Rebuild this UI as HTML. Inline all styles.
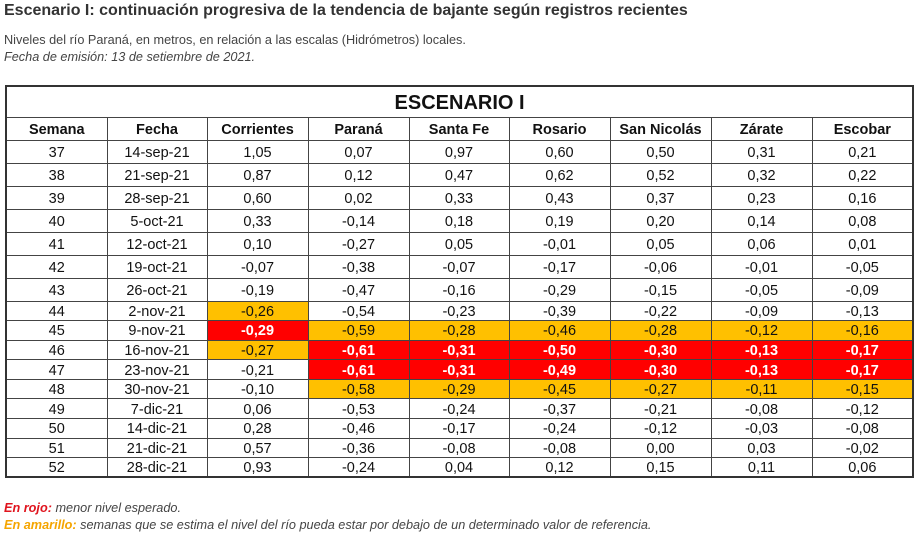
<!DOCTYPE html>
<html><head><meta charset="utf-8"><style>
body{margin:0;width:917px;height:533px;background:#fff;font-family:"Liberation Sans",Arial,sans-serif;color:#222;position:relative;overflow:hidden}
.t{position:absolute;left:4px;top:2px;font-size:16px;font-weight:bold;color:#333}
.s{position:absolute;left:4px;font-size:12.7px;color:#444}
table{position:absolute;left:5px;top:85px;border-collapse:collapse;table-layout:fixed;width:907px;border:2px solid #333}
td{border:1px solid #444;text-align:center;font-size:14.5px;color:#111;padding:2px 0 0 0;line-height:14px;box-sizing:border-box;vertical-align:middle}
tr.a td{height:23px}
tr.b td{height:19.6px}
.h td{font-weight:bold;height:23px}
.ti td{font-size:20px;font-weight:bold;height:31px;border-bottom:1px solid #444}
.o{background:#ffc000}
.r{background:#ff0000;color:#fff;font-weight:bold}
</style></head><body>
<div class="t">Escenario I: continuación progresiva de la tendencia de bajante según registros recientes</div>
<div class="s" style="top:33px">Niveles del río Paraná, en metros, en relación a las escalas (Hidrómetros) locales.</div>
<div class="s" style="top:50px;font-style:italic">Fecha de emisión: 13 de setiembre de 2021.</div>
<table>
<colgroup><col style="width:101px"><col style="width:100px"><col style="width:101px"><col style="width:101px"><col style="width:100px"><col style="width:101px"><col style="width:101px"><col style="width:101px"><col style="width:101px"></colgroup>
<tr class="ti"><td colspan="9">ESCENARIO I</td></tr>
<tr class="h"><td>Semana</td><td>Fecha</td><td>Corrientes</td><td>Paraná</td><td>Santa Fe</td><td>Rosario</td><td>San Nicolás</td><td>Zárate</td><td>Escobar</td></tr>
<tr class="a"><td>37</td><td>14-sep-21</td><td>1,05</td><td>0,07</td><td>0,97</td><td>0,60</td><td>0,50</td><td>0,31</td><td>0,21</td></tr>
<tr class="a"><td>38</td><td>21-sep-21</td><td>0,87</td><td>0,12</td><td>0,47</td><td>0,62</td><td>0,52</td><td>0,32</td><td>0,22</td></tr>
<tr class="a"><td>39</td><td>28-sep-21</td><td>0,60</td><td>0,02</td><td>0,33</td><td>0,43</td><td>0,37</td><td>0,23</td><td>0,16</td></tr>
<tr class="a"><td>40</td><td>5-oct-21</td><td>0,33</td><td>-0,14</td><td>0,18</td><td>0,19</td><td>0,20</td><td>0,14</td><td>0,08</td></tr>
<tr class="a"><td>41</td><td>12-oct-21</td><td>0,10</td><td>-0,27</td><td>0,05</td><td>-0,01</td><td>0,05</td><td>0,06</td><td>0,01</td></tr>
<tr class="a"><td>42</td><td>19-oct-21</td><td>-0,07</td><td>-0,38</td><td>-0,07</td><td>-0,17</td><td>-0,06</td><td>-0,01</td><td>-0,05</td></tr>
<tr class="a"><td>43</td><td>26-oct-21</td><td>-0,19</td><td>-0,47</td><td>-0,16</td><td>-0,29</td><td>-0,15</td><td>-0,05</td><td>-0,09</td></tr>
<tr class="b"><td>44</td><td>2-nov-21</td><td class="o">-0,26</td><td>-0,54</td><td>-0,23</td><td>-0,39</td><td>-0,22</td><td>-0,09</td><td>-0,13</td></tr>
<tr class="b"><td>45</td><td>9-nov-21</td><td class="r">-0,29</td><td class="o">-0,59</td><td class="o">-0,28</td><td class="o">-0,46</td><td class="o">-0,28</td><td class="o">-0,12</td><td class="o">-0,16</td></tr>
<tr class="b"><td>46</td><td>16-nov-21</td><td class="o">-0,27</td><td class="r">-0,61</td><td class="r">-0,31</td><td class="r">-0,50</td><td class="r">-0,30</td><td class="r">-0,13</td><td class="r">-0,17</td></tr>
<tr class="b"><td>47</td><td>23-nov-21</td><td>-0,21</td><td class="r">-0,61</td><td class="r">-0,31</td><td class="r">-0,49</td><td class="r">-0,30</td><td class="r">-0,13</td><td class="r">-0,17</td></tr>
<tr class="b"><td>48</td><td>30-nov-21</td><td>-0,10</td><td class="o">-0,58</td><td class="o">-0,29</td><td class="o">-0,45</td><td class="o">-0,27</td><td class="o">-0,11</td><td class="o">-0,15</td></tr>
<tr class="b"><td>49</td><td>7-dic-21</td><td>0,06</td><td>-0,53</td><td>-0,24</td><td>-0,37</td><td>-0,21</td><td>-0,08</td><td>-0,12</td></tr>
<tr class="b"><td>50</td><td>14-dic-21</td><td>0,28</td><td>-0,46</td><td>-0,17</td><td>-0,24</td><td>-0,12</td><td>-0,03</td><td>-0,08</td></tr>
<tr class="b"><td>51</td><td>21-dic-21</td><td>0,57</td><td>-0,36</td><td>-0,08</td><td>-0,08</td><td>0,00</td><td>0,03</td><td>-0,02</td></tr>
<tr class="b"><td>52</td><td>28-dic-21</td><td>0,93</td><td>-0,24</td><td>0,04</td><td>0,12</td><td>0,15</td><td>0,11</td><td>0,06</td></tr>
</table>
<div class="s" style="top:501px;font-style:italic"><b style="color:#e0141e">En rojo:</b> menor nivel esperado.</div>
<div class="s" style="top:518px;font-style:italic"><b style="color:#f5a500">En amarillo:</b> semanas que se estima el nivel del río pueda estar por debajo de un determinado valor de referencia.</div>
</body></html>
